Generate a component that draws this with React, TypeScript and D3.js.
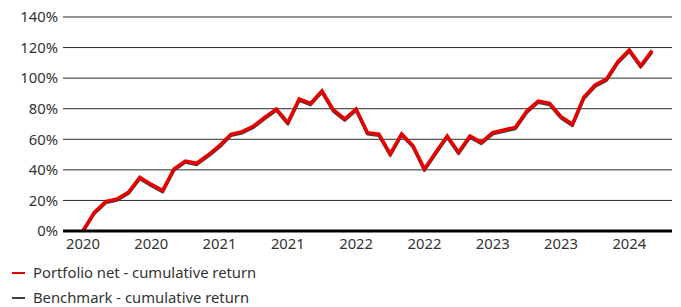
import React from "react";
import * as d3 from "d3";

const months: string[] = [];
const startYear = 2020;
for (let i = 0; i < 51; i++) {
  const y = startYear + Math.floor(i / 12);
  const m = (i % 12) + 1;
  months.push(`${y}-${String(m).padStart(2, "0")}`);
}

const portfolio = [
  0, 12.2, 19.2, 20.9, 25.3, 35.1, 30.5, 26.4, 40.6, 45.8, 44.3, 49.7, 55.8,
  63.3, 65.0, 68.7, 74.4, 79.8, 70.9, 86.4, 83.5, 91.6, 79.2, 73.3, 79.8, 64.3,
  63.3, 50.4, 63.5, 55.8, 40.6, 51.5, 62.1, 51.5, 62.1, 58.0, 64.3, 66.1, 67.8,
  78.5, 85.0, 83.5, 74.8, 69.8, 87.5, 95.5, 99.4, 110.8, 118.4, 108.1, 118.0,
];

const benchmark = [
  -0.5, 11.4, 18.4, 20.1, 24.5, 34.2, 29.6, 25.5, 39.7, 44.9, 43.4, 48.8, 54.9,
  62.4, 64.1, 67.8, 73.5, 78.9, 70.0, 85.5, 82.6, 90.7, 78.3, 72.4, 78.9, 63.4,
  62.4, 49.5, 62.6, 54.9, 39.7, 50.6, 61.2, 50.6, 61.2, 57.1, 63.4, 65.2, 66.9,
  77.6, 84.1, 82.6, 73.9, 68.9, 86.6, 94.6, 98.5, 109.9, 117.5, 107.2, 117.1,
];

const yTicks = [0, 20, 40, 60, 80, 100, 120, 140];
const tickEvery = 6;
const seriesNames = ["Portfolio net - cumulative return", "Benchmark - cumulative return"];
const seriesColors = ["#e60000", "#404040"];

export default function App() {
  const W = 681;
  const H = 307;
  const left = 63;
  const right = 672;
  const x = d3.scalePoint<string>().domain(months).range([left, right]).padding(1.75);
  const y = d3.scaleLinear().domain([0, 140]).range([231, 17]);
  const line = d3
    .line<number>()
    .x((_, i) => x(months[i]) as number)
    .y((d) => y(d));
  const font = "'Noto Sans', 'Open Sans', sans-serif";
  const textColor = "#333333";
  const fs = 14.8;
  const xTickIdx = months.map((_, i) => i).filter((i) => i % tickEvery === 0);

  return (
    <svg
      width={W}
      height={H}
      style={{ position: "absolute", left: 0, top: 0, background: "#fff" }}
      fontFamily={font}
    >
      {yTicks.map((t) => (
        <g key={t}>
          {t !== 0 && (
            <line x1={left} x2={right} y1={y(t)} y2={y(t)} stroke="#2a2a2a" strokeWidth={1} />
          )}
          <text
            x={58}
            y={y(t)}
            dy="0.36em"
            textAnchor="end"
            fontSize={fs}
            fill={textColor}
          >
            {t}%
          </text>
        </g>
      ))}
      <path d={line(benchmark) || ""} fill="none" stroke={seriesColors[1]} strokeWidth={3} strokeLinejoin="round" />
      <path d={line(portfolio) || ""} fill="none" stroke={seriesColors[0]} strokeWidth={3.5} strokeLinejoin="miter" />
      <line x1={left} x2={right} y1={y(0)} y2={y(0)} stroke="#000" strokeWidth={3} />
      {xTickIdx.map((i) => (
        <text
          key={i}
          x={x(months[i]) as number}
          y={249}
          textAnchor="middle"
          fontSize={fs}
          fill={textColor}
        >
          {months[i].slice(0, 4)}
        </text>
      ))}
      {seriesNames.map((n, i) => (
        <g key={n} transform={`translate(0, ${273 + i * 25})`}>
          <line x1={12} x2={25} y1={0} y2={0} stroke={seriesColors[i]} strokeWidth={2} />
          <text x={33} y={0} dy="0.36em" fontSize={fs} fill={textColor}>
            {n}
          </text>
        </g>
      ))}
    </svg>
  );
}
